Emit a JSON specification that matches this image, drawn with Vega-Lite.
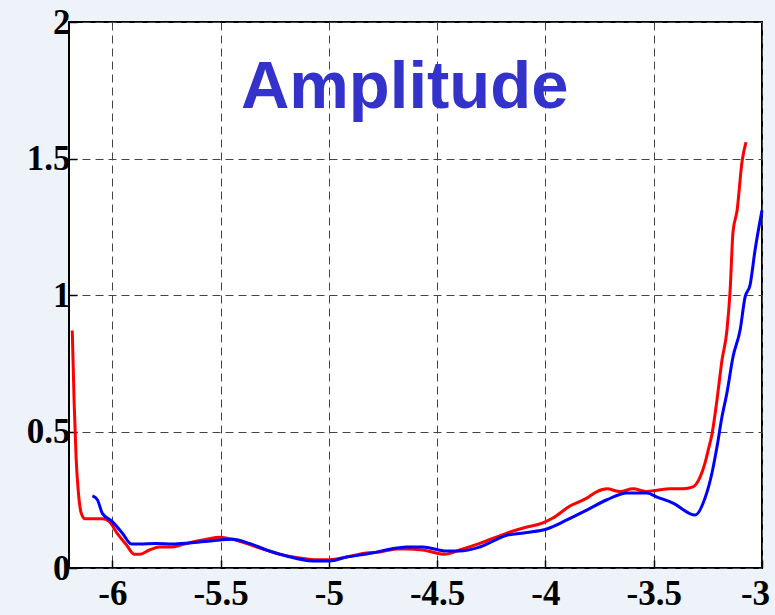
{
  "$schema": "https://vega.github.io/schema/vega-lite/v6.json",
  "width": 693,
  "height": 546,
  "autosize": {"type": "none"},
  "padding": {"left": 69, "top": 22, "right": 13, "bottom": 47},
  "background": "#EEF3F9",
  "config": {
    "view": {"fill": "white", "stroke": "black", "strokeWidth": 2},
    "axis": {
      "labelFont": "Liberation Serif",
      "labelFontWeight": "bold",
      "labelFontSize": 35,
      "labelColor": "black",
      "domain": false,
      "grid": true,
      "gridColor": "#444444",
      "gridDash": [8, 5],
      "gridWidth": 1,
      "gridOpacity": 1,
      "tickColor": "black",
      "tickSize": -8,
      "tickWidth": 1.5,
      "title": null
    }
  },
  "datasets": {
    "curves": [
      {"x": -6.185, "y": 0.87, "s": "red"},
      {"x": -6.176, "y": 0.6, "s": "red"},
      {"x": -6.167, "y": 0.4, "s": "red"},
      {"x": -6.157, "y": 0.28, "s": "red"},
      {"x": -6.143, "y": 0.2, "s": "red"},
      {"x": -6.125, "y": 0.18, "s": "red"},
      {"x": -6.06, "y": 0.18, "s": "red"},
      {"x": -6.046, "y": 0.18, "s": "red"},
      {"x": -6.014, "y": 0.17, "s": "red"},
      {"x": -5.98, "y": 0.13, "s": "red"},
      {"x": -5.935, "y": 0.085, "s": "red"},
      {"x": -5.898, "y": 0.05, "s": "red"},
      {"x": -5.875, "y": 0.05, "s": "red"},
      {"x": -5.829, "y": 0.066, "s": "red"},
      {"x": -5.783, "y": 0.077, "s": "red"},
      {"x": -5.723, "y": 0.077, "s": "red"},
      {"x": -5.658, "y": 0.09, "s": "red"},
      {"x": -5.565, "y": 0.105, "s": "red"},
      {"x": -5.505, "y": 0.113, "s": "red"},
      {"x": -5.445, "y": 0.105, "s": "red"},
      {"x": -5.381, "y": 0.09, "s": "red"},
      {"x": -5.307, "y": 0.07, "s": "red"},
      {"x": -5.214, "y": 0.048, "s": "red"},
      {"x": -5.135, "y": 0.037, "s": "red"},
      {"x": -5.057, "y": 0.03, "s": "red"},
      {"x": -4.997, "y": 0.03, "s": "red"},
      {"x": -4.918, "y": 0.04, "s": "red"},
      {"x": -4.826, "y": 0.055, "s": "red"},
      {"x": -4.766, "y": 0.059, "s": "red"},
      {"x": -4.687, "y": 0.07, "s": "red"},
      {"x": -4.641, "y": 0.07, "s": "red"},
      {"x": -4.567, "y": 0.066, "s": "red"},
      {"x": -4.465, "y": 0.05, "s": "red"},
      {"x": -4.396, "y": 0.066, "s": "red"},
      {"x": -4.303, "y": 0.09, "s": "red"},
      {"x": -4.178, "y": 0.128, "s": "red"},
      {"x": -4.086, "y": 0.15, "s": "red"},
      {"x": -4.012, "y": 0.165, "s": "red"},
      {"x": -3.966, "y": 0.183, "s": "red"},
      {"x": -3.887, "y": 0.227, "s": "red"},
      {"x": -3.809, "y": 0.256, "s": "red"},
      {"x": -3.762, "y": 0.28, "s": "red"},
      {"x": -3.716, "y": 0.29, "s": "red"},
      {"x": -3.656, "y": 0.28, "s": "red"},
      {"x": -3.596, "y": 0.29, "s": "red"},
      {"x": -3.531, "y": 0.28, "s": "red"},
      {"x": -3.485, "y": 0.285, "s": "red"},
      {"x": -3.425, "y": 0.29, "s": "red"},
      {"x": -3.365, "y": 0.29, "s": "red"},
      {"x": -3.319, "y": 0.297, "s": "red"},
      {"x": -3.286, "y": 0.333, "s": "red"},
      {"x": -3.263, "y": 0.385, "s": "red"},
      {"x": -3.249, "y": 0.43, "s": "red"},
      {"x": -3.231, "y": 0.49, "s": "red"},
      {"x": -3.208, "y": 0.615, "s": "red"},
      {"x": -3.185, "y": 0.76, "s": "red"},
      {"x": -3.162, "y": 0.87, "s": "red"},
      {"x": -3.147, "y": 1.02, "s": "red"},
      {"x": -3.134, "y": 1.23, "s": "red"},
      {"x": -3.115, "y": 1.31, "s": "red"},
      {"x": -3.092, "y": 1.49, "s": "red"},
      {"x": -3.074, "y": 1.56, "s": "red"},
      {"x": -6.092, "y": 0.264, "s": "blue"},
      {"x": -6.069, "y": 0.25, "s": "blue"},
      {"x": -6.046, "y": 0.2, "s": "blue"},
      {"x": -6.0, "y": 0.17, "s": "blue"},
      {"x": -5.954, "y": 0.128, "s": "blue"},
      {"x": -5.912, "y": 0.088, "s": "blue"},
      {"x": -5.875, "y": 0.088, "s": "blue"},
      {"x": -5.797, "y": 0.09, "s": "blue"},
      {"x": -5.723, "y": 0.088, "s": "blue"},
      {"x": -5.644, "y": 0.092, "s": "blue"},
      {"x": -5.538, "y": 0.1, "s": "blue"},
      {"x": -5.445, "y": 0.105, "s": "blue"},
      {"x": -5.367, "y": 0.09, "s": "blue"},
      {"x": -5.288, "y": 0.066, "s": "blue"},
      {"x": -5.196, "y": 0.044, "s": "blue"},
      {"x": -5.075, "y": 0.026, "s": "blue"},
      {"x": -4.997, "y": 0.026, "s": "blue"},
      {"x": -4.918, "y": 0.04, "s": "blue"},
      {"x": -4.826, "y": 0.051, "s": "blue"},
      {"x": -4.687, "y": 0.073, "s": "blue"},
      {"x": -4.641, "y": 0.077, "s": "blue"},
      {"x": -4.567, "y": 0.077, "s": "blue"},
      {"x": -4.456, "y": 0.062, "s": "blue"},
      {"x": -4.396, "y": 0.062, "s": "blue"},
      {"x": -4.303, "y": 0.077, "s": "blue"},
      {"x": -4.178, "y": 0.12, "s": "blue"},
      {"x": -4.086, "y": 0.13, "s": "blue"},
      {"x": -3.994, "y": 0.143, "s": "blue"},
      {"x": -3.901, "y": 0.176, "s": "blue"},
      {"x": -3.809, "y": 0.212, "s": "blue"},
      {"x": -3.716, "y": 0.25, "s": "blue"},
      {"x": -3.624, "y": 0.275, "s": "blue"},
      {"x": -3.531, "y": 0.275, "s": "blue"},
      {"x": -3.485, "y": 0.26, "s": "blue"},
      {"x": -3.411, "y": 0.238, "s": "blue"},
      {"x": -3.309, "y": 0.194, "s": "blue"},
      {"x": -3.263, "y": 0.256, "s": "blue"},
      {"x": -3.231, "y": 0.348, "s": "blue"},
      {"x": -3.208, "y": 0.443, "s": "blue"},
      {"x": -3.185, "y": 0.553, "s": "blue"},
      {"x": -3.162, "y": 0.641, "s": "blue"},
      {"x": -3.134, "y": 0.773, "s": "blue"},
      {"x": -3.101, "y": 0.872, "s": "blue"},
      {"x": -3.078, "y": 0.993, "s": "blue"},
      {"x": -3.055, "y": 1.037, "s": "blue"},
      {"x": -3.032, "y": 1.165, "s": "blue"},
      {"x": -3.0, "y": 1.31, "s": "blue"}
    ],
    "label": [{"x": -4.65, "y": 1.685, "t": "Amplitude"}]
  },
  "layer": [
    {
      "data": {"name": "curves"},
      "mark": {"type": "line", "strokeWidth": 3, "interpolate": "monotone"},
      "encoding": {
        "x": {
          "field": "x", "type": "quantitative",
          "scale": {"domain": [-6.2, -3], "nice": false, "zero": false},
          "axis": {
            "values": [-6, -5.5, -5, -4.5, -4, -3.5, -3],
            "labelExpr": "'' + datum.value",
            "labelPadding": 16,
            "labelFlush": false,
            "labelOffset": {"condition": {"test": "datum.value == -3", "value": -7}, "value": 0}
          }
        },
        "y": {
          "field": "y", "type": "quantitative",
          "scale": {"domain": [0, 2], "nice": false},
          "axis": {"values": [0, 0.5, 1, 1.5, 2], "labelExpr": "'' + datum.value", "labelPadding": 7, "labelFlush": false}
        },
        "color": {
          "field": "s", "type": "nominal",
          "scale": {"domain": ["blue", "red"], "range": ["#0000FF", "#FF0000"]},
          "legend": null
        },
        "order": {"field": "x", "type": "quantitative"},
        "detail": {"field": "s"}
      }
    },
    {
      "data": {"name": "label"},
      "mark": {"type": "text", "font": "Liberation Sans", "fontWeight": "bold", "fontSize": 67, "color": "#3333CC", "align": "center", "baseline": "alphabetic"},
      "encoding": {
        "x": {"field": "x", "type": "quantitative"},
        "y": {"field": "y", "type": "quantitative"},
        "text": {"field": "t"}
      }
    }
  ]
}
